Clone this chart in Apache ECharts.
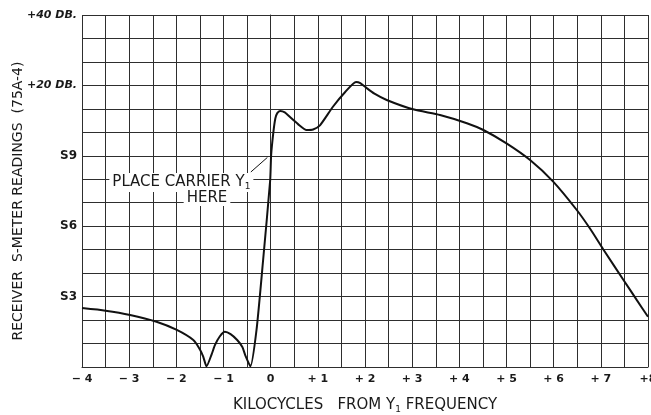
<!DOCTYPE html>
<html><head><meta charset="utf-8">
<script src="https://cdn.jsdelivr.net/npm/echarts@6/dist/echarts.min.js"></script>
<style>html,body{margin:0;padding:0;background:#fff}#c{width:651px;height:415px}</style>
</head><body><div id="c"></div>
<script>
const xTickValues=[-4,-3,-2,-1,0,1,2,3,4,5,6,7,8];
const xTickLabels=['− 4','− 3','− 2','− 1','0','+ 1','+ 2','+ 3','+ 4','+ 5','+ 6','+ 7','+8'];
const yTickValues=[3,6,9,12,15];
const yTickLabels=['S3','S6','S9','+20 DB.','+40 DB.'];
const curveX=[-4.00,-3.50,-2.98,-2.42,-1.99,-1.64,-1.50,-1.43,-1.36,-1.25,-1.18,-1.08,-0.97,-0.85,-0.71,-0.60,-0.54,-0.43,-0.30,-0.16,-0.01,0.01,0.06,0.10,0.14,0.20,0.30,0.41,0.58,0.76,0.90,1.05,1.32,1.58,1.81,1.90,2.04,2.20,2.46,3.02,3.59,4.16,4.51,5.00,5.50,5.99,6.49,6.77,7.05,7.48,7.76,8.00];
const curveY=[2.51,2.40,2.22,1.93,1.58,1.15,0.75,0.44,0.03,0.55,0.94,1.30,1.50,1.40,1.15,0.85,0.51,0.03,1.58,4.56,7.97,9.03,10.05,10.60,10.82,10.91,10.85,10.65,10.35,10.10,10.12,10.31,11.09,11.72,12.15,12.10,11.88,11.65,11.38,10.98,10.74,10.39,10.10,9.53,8.82,7.90,6.69,5.90,5.02,3.71,2.86,2.14];
const carrierPoint=[0.0,9.0];
const annotationLine1='PLACE CARRIER Y';
const annotationSub='1';
const annotationLine2='HERE';
const yAxisTitle='RECEIVER  S-METER READINGS  (75A-4)';

const chart=echarts.init(document.getElementById('c'),null,{renderer:'canvas'});
const font='DejaVu Sans';
const ink='#1a1a1a';
const gridColor='#2e2e2e';
const option={
  animation:false,
  backgroundColor:'#fff',
  grid:{left:82,right:3,top:15,bottom:48,containLabel:false,outerBoundsMode:'none'},
  xAxis:{
    type:'value',min:-4,max:8,interval:0.5,
    name:'KILOCYCLES   FROM Y{sub|1} FREQUENCY',
    nameLocation:'middle',nameGap:30,
    nameTextStyle:{fontFamily:font,fontSize:15,color:ink,
      rich:{sub:{fontFamily:font,fontSize:9,color:ink,padding:[8,0,0,0]}}},
    axisLine:{show:true,lineStyle:{color:gridColor,width:1}},
    axisTick:{show:false},
    axisLabel:{customValues:xTickValues,margin:7,fontFamily:font,fontSize:11,fontWeight:'bold',color:ink,
      formatter:v=>{const i=xTickValues.indexOf(Math.round(v));return i>=0?xTickLabels[i]:'';}},
    splitLine:{show:true,lineStyle:{color:gridColor,width:1}}
  },
  yAxis:{
    type:'value',min:0,max:15,interval:1,
    axisLine:{show:true,lineStyle:{color:gridColor,width:1}},
    axisTick:{show:false},
    axisLabel:{customValues:yTickValues,margin:5,fontFamily:font,fontSize:12,fontWeight:'bold',color:ink,
      formatter:v=>{const i=yTickValues.indexOf(Math.round(v));if(i<0)return '';const t=yTickLabels[i];return t.indexOf('DB')>=0?'{db|'+t+'}':t;},
      rich:{db:{fontFamily:font,fontSize:11,fontStyle:'italic',fontWeight:'bold',color:ink}}},
    splitLine:{show:true,lineStyle:{color:gridColor,width:1}}
  },
  series:[{
    type:'line',
    data:curveX.map((x,i)=>[x,curveY[i]]),
    showSymbol:false,smooth:0.2,
    lineStyle:{color:'#111',width:2},
    z:5,
    markLine:{
      silent:true,symbol:['none','arrow'],symbolSize:[0,8],
      lineStyle:{color:'#111',width:1,type:'solid'},
      label:{show:false},
      data:[[{coord:[-0.42,8.31]},{coord:[carrierPoint[0]-0.07,carrierPoint[1]-0.07]}]]
    }
  }]
};
chart.setOption(option);
const p1=chart.convertToPixel({gridIndex:0},[-3.42,7.86]);
const p2=chart.convertToPixel({gridIndex:0},[-1.35,7.18]);
const gridRect=chart.getModel().getComponent('grid').coordinateSystem.getRect();
chart.setOption({graphic:[
 {type:'text',x:p1[0],y:p1[1],z:3,
  style:{text:annotationLine1+'{sub|'+annotationSub+'}',font:'15px "DejaVu Sans"',fill:ink,
    align:'left',verticalAlign:'middle',backgroundColor:'#fff',padding:[1,3,1,3],
    rich:{sub:{font:'9px "DejaVu Sans"',fill:ink,padding:[8,0,0,0]}}}},
 {type:'text',x:p2[0],y:p2[1],z:3,
  style:{text:annotationLine2,font:'15px "DejaVu Sans"',fill:ink,
    align:'center',verticalAlign:'middle',backgroundColor:'#fff',padding:[0,3,0,3]}},
 {type:'text',x:gridRect.x-64,y:gridRect.y+gridRect.height/2+10,rotation:Math.PI/2,z:3,
  style:{text:yAxisTitle,font:'14px "DejaVu Sans"',fill:ink,align:'center',verticalAlign:'middle'}}
]});
</script></body></html>
